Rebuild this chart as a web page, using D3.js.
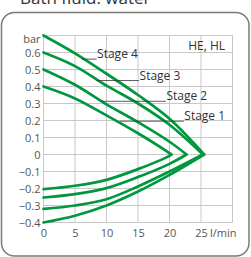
<!DOCTYPE html>
<html>
<head>
<meta charset="utf-8">
<script src="https://cdn.jsdelivr.net/npm/d3@7"></script>
<style>
  body { margin: 0; background: #fff; }
  text { font-family: 'Open Sans', sans-serif; }
</style>
</head>
<body>
<svg id="chart" width="251" height="257"></svg>
<script>
// Flow (l/min) where the curves were read
const flows = [0, 5, 10, 15, 20];
const stages = ['Stage 1', 'Stage 2', 'Stage 3', 'Stage 4'];
// Flow where pressure reaches zero (tip of each curve)
const maxFlow = [20.3, 22.7, 25.3, 25.5];

// Pressure side (bar) per stage
const pressure1 = [0.40, 0.33, 0.23, 0.125, 0.008];
const pressure2 = [0.50, 0.41, 0.295, 0.19, 0.075];
const pressure3 = [0.60, 0.52, 0.405, 0.30, 0.175];
const pressure4 = [0.70, 0.595, 0.475, 0.35, 0.21];

// Suction side (bar) per stage
const suction1 = [-0.204, -0.184, -0.149, -0.086, -0.008];
const suction2 = [-0.253, -0.233, -0.198, -0.133, -0.055];
const suction3 = [-0.32, -0.30, -0.263, -0.188, -0.10];
const suction4 = [-0.40, -0.36, -0.30, -0.218, -0.12];

const xTicks = [0, 5, 10, 15, 20, 25];
const yTicks = [-0.4, -0.3, -0.2, -0.1, 0, 0.1, 0.2, 0.3, 0.4, 0.5, 0.6, 0.7];

// Stage label anchors (pressure of the leader, flow where text starts, flow where leader starts)
const labelPressure = [0.196, 0.313, 0.435, 0.561];
const labelFlow = [22.27, 19.43, 15.17, 8.43];
const leaderFlow = [12.1, 9.22, 8.43, 6.07];

const pressures = [pressure1, pressure2, pressure3, pressure4];
const suctions = [suction1, suction2, suction3, suction4];

const svg = d3.select('#chart');

// Outer rounded frame and cut-off title
svg.append('rect')
    .attr('x', 1.5).attr('y', 12.5)
    .attr('width', 247.5).attr('height', 243.5)
    .attr('rx', 13)
    .attr('fill', 'none')
    .attr('stroke', '#7a7a7a')
    .attr('stroke-width', 1.5);

svg.append('text')
    .attr('x', 20).attr('y', 4)
    .style('font-size', '17px')
    .attr('fill', '#333')
    .text('Bath fluid: water');

const margin = { top: 35.5, left: 43.5, right: 232.5, bottom: 222.5 };

const x = d3.scaleLinear().domain([0, 30]).range([margin.left, margin.right]);
const y = d3.scaleLinear().domain([-0.4, 0.7]).range([margin.bottom, margin.top]);

// Grid
const grid = svg.append('g').attr('stroke', '#c8c8c8').attr('stroke-width', 1);
grid.selectAll('.v')
    .data(d3.range(0, 31, 5))
  .enter().append('line')
    .attr('x1', d => x(d)).attr('x2', d => x(d))
    .attr('y1', margin.top).attr('y2', margin.bottom);
grid.selectAll('.h')
    .data(yTicks)
  .enter().append('line')
    .attr('y1', d => y(d)).attr('y2', d => y(d))
    .attr('x1', margin.left).attr('x2', margin.right);

// Axes (labels only)
const yAxis = svg.append('g')
    .attr('transform', 'translate(' + margin.left + ',0)')
    .call(d3.axisLeft(y).tickValues(yTicks).tickSize(0).tickPadding(3)
        .tickFormat(d => d === 0.7 ? 'bar' : (d === 0 ? '0' : d3.format('.1f')(d))));
const xAxis = svg.append('g')
    .attr('transform', 'translate(0,' + margin.bottom + ')')
    .call(d3.axisBottom(x).tickValues(xTicks).tickSize(0).tickPadding(7)
        .tickFormat(d3.format('d')));

[yAxis, xAxis].forEach(g => {
  g.select('.domain').remove();
  g.selectAll('text')
      .style('font-size', '11px')
      .style('font-family', "'Open Sans', sans-serif")
      .attr('fill', '#555');
});
yAxis.selectAll('.tick').filter(d => d === 0.7).select('text').attr('dy', '0.6em');

svg.append('text')
    .attr('x', x(25) + 9)
    .attr('y', margin.bottom + 7 + 7.8)
    .style('font-size', '11px')
    .attr('fill', '#555')
    .text('l/min');

svg.append('text')
    .attr('x', 225).attr('y', 50)
    .attr('text-anchor', 'end')
    .style('font-size', '12px')
    .attr('fill', '#333')
    .text('HE, HL');

// Curves: pressure and suction branches meet at the tip
const line = d3.line()
    .x(d => x(d[0]))
    .y(d => y(d[1]))
    .curve(d3.curveCatmullRom.alpha(0.5));

stages.forEach((s, i) => {
  const upper = flows.map((f, j) => [f, pressures[i][j]]).concat([[maxFlow[i], 0]]);
  const lower = flows.map((f, j) => [f, suctions[i][j]]).concat([[maxFlow[i], 0]]);
  [upper, lower].forEach(pts => {
    svg.append('path')
        .attr('d', line(pts))
        .attr('fill', 'none')
        .attr('stroke', '#00973f')
        .attr('stroke-width', 2.7)
        .attr('stroke-linecap', 'round');
  });
});

// Stage labels with leader lines
stages.forEach((s, i) => {
  svg.append('line')
      .attr('x1', x(leaderFlow[i])).attr('x2', x(labelFlow[i]))
      .attr('y1', y(labelPressure[i])).attr('y2', y(labelPressure[i]))
      .attr('stroke', '#333')
      .attr('stroke-width', 0.8);
  svg.append('text')
      .attr('x', x(labelFlow[i]) + 0.5)
      .attr('y', y(labelPressure[i]) - 1)
      .style('font-size', '12px')
      .attr('fill', '#333')
      .text(s);
});
</script>
</body>
</html>
